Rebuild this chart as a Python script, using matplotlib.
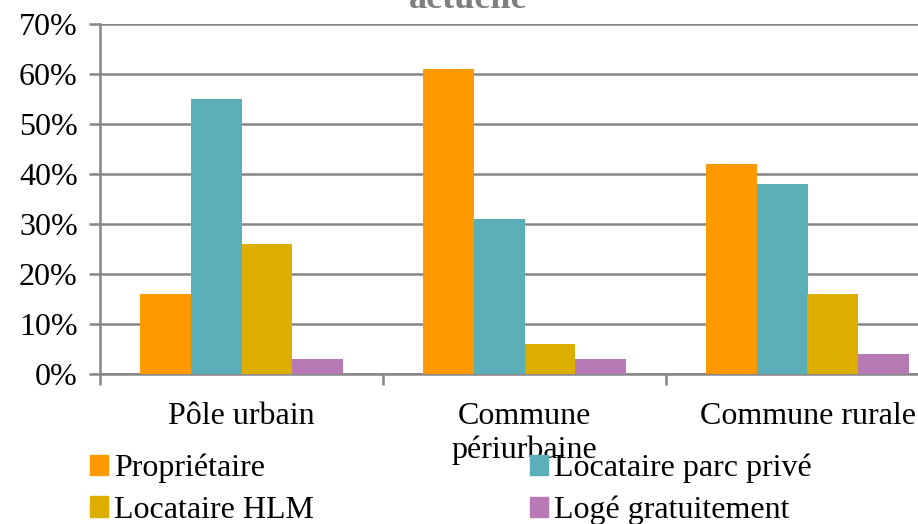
import numpy as np
import matplotlib
matplotlib.use('Agg')
import matplotlib.pyplot as plt
from matplotlib.patches import Patch

plt.rcParams['font.family'] = ['Liberation Serif', 'DejaVu Serif']

categories = ['Pôle urbain', 'Commune\npériurbaine', 'Commune rurale']
series = ['Propriétaire', 'Locataire parc privé', 'Locataire HLM', 'Logé gratuitement']
values = {
    'Propriétaire': [16, 61, 42],
    'Locataire parc privé': [55, 31, 38],
    'Locataire HLM': [26, 6, 16],
    'Logé gratuitement': [3, 3, 4],
}
colors = ['#FF9900', '#5AAFB8', '#DDAD00', '#B77AB5']
yticks = [0, 10, 20, 30, 40, 50, 60, 70]

grey = '#868686'

fig = plt.figure(figsize=(9.18, 5.24), dpi=100)
# axes runs past the right edge of the figure, as in the reference
ax = fig.add_axes([100 / 918, 1 - 374 / 524, 849 / 918, 350 / 524])

bw = 0.18
x = np.arange(len(categories))
for i, (s, c) in enumerate(zip(series, colors)):
    ax.bar(x - 0.36 + bw * (i + 0.5), values[s], width=bw, color=c, label=s,
           zorder=3)

ax.set_xlim(-0.5, len(categories) - 0.5)
ax.set_ylim(0, 70)
ax.set_yticks(yticks)
ax.set_yticklabels([f'{v}%' for v in yticks], fontsize=23)
ax.yaxis.grid(True, color=grey, linewidth=1.8, zorder=0)
ax.set_axisbelow(True)

ax.set_xticks(x)
ax.set_xticklabels(categories, fontsize=23, linespacing=1.2)
ax.set_xticks(np.arange(-0.5, len(categories) + 0.5, 1), minor=True)
ax.tick_params(axis='x', which='major', length=0, pad=20)
ax.tick_params(axis='x', which='minor', length=8, width=1.8, color=grey)
ax.tick_params(axis='y', length=8, width=1.8, color=grey, pad=8)

for side in ['top', 'right']:
    ax.spines[side].set_visible(False)
for side in ['left', 'bottom']:
    ax.spines[side].set_color(grey)
    ax.spines[side].set_linewidth(1.8)

fig.text(468 / 918, 1 + 1 / 524, 'actuelle', ha='center', va='center',
         fontsize=26, fontweight='bold', color='#7F7F7F')

# legend is filled column by column, so order entries to read row by row
order = [0, 2, 1, 3]
handles = [Patch(color=colors[k]) for k in order]
labels = [series[k] for k in order]
fig.legend(handles, labels, loc='lower left', bbox_to_anchor=(68 / 918, -0.045),
           ncol=2, frameon=False, fontsize=23, handlelength=0.55,
           handleheight=0.6, handletextpad=0.2, columnspacing=6.75,
           labelspacing=0.4, borderpad=0.2)

fig.savefig('out.png', dpi=100)
